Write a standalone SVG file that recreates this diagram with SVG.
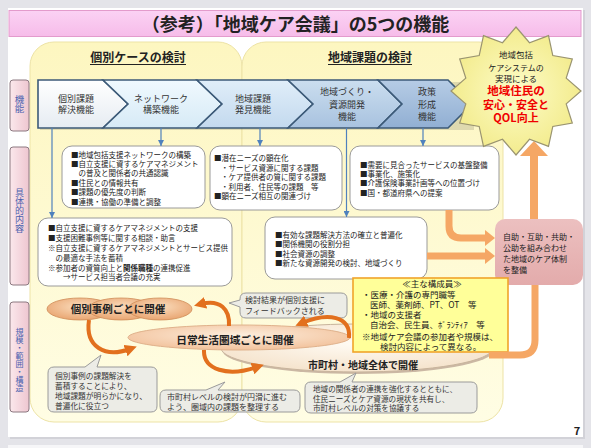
<svg xmlns="http://www.w3.org/2000/svg" width="591" height="448" viewBox="0 0 591 448">
<defs>
<style>
text{font-family:"Noto Sans CJK JP","Noto Sans CJK SC",sans-serif}
.k{fill:#222}
.b{font-size:7.5px;fill:#222}
.cv{font-size:9px;fill:#333;text-anchor:middle}
.tab{fill:#4a62b0;text-anchor:middle;writing-mode:vertical-rl}
.tabr{fill:url(#gTab);stroke:#8c7880;stroke-width:1}
.box{fill:#fff;stroke:#9a9a9a;stroke-width:1}
.call{fill:#ececE6;stroke:#9a9a9a;stroke-width:1}
.ct{fill:#333}
.chev{stroke:#3c5a78;stroke-width:1.6;stroke-linejoin:miter}
.blue{stroke:#4f81bd;stroke-width:1.2;fill:none;marker-end:url(#ab)}
.dor{stroke:#e2701e;stroke-width:4;fill:none;marker-end:url(#ao)}
.lor{stroke:#f5a765;fill:none}
.lorh{fill:#f5a765}
.et{font-weight:bold;text-anchor:middle;fill:#222}
.red{fill:#f00000;font-weight:bold}
.st{fill:#222;text-anchor:middle}
</style>
<linearGradient id="gRegion" x1="0" y1="0" x2="0" y2="1"><stop offset="0" stop-color="#fdf6c0"/><stop offset="1" stop-color="#fffde4"/></linearGradient>
<linearGradient id="gTab" x1="0" y1="0" x2="1" y2="0"><stop offset="0" stop-color="#fbe8ec"/><stop offset="1" stop-color="#eec6d0"/></linearGradient>
<linearGradient id="gTitle" x1="0" y1="0" x2="0" y2="1"><stop offset="0" stop-color="#fbd2f4"/><stop offset="1" stop-color="#f6bce9"/></linearGradient>
<linearGradient id="gC1" x1="0" y1="0" x2="0" y2="1"><stop offset="0" stop-color="#ffffff"/><stop offset="1" stop-color="#e6ecf2"/></linearGradient>
<linearGradient id="gC2" x1="0" y1="0" x2="0" y2="1"><stop offset="0" stop-color="#f0f9fe"/><stop offset="1" stop-color="#d6eaf6"/></linearGradient>
<linearGradient id="gC3" x1="0" y1="0" x2="0" y2="1"><stop offset="0" stop-color="#e0eef9"/><stop offset="1" stop-color="#c3d9ee"/></linearGradient>
<linearGradient id="gC4" x1="0" y1="0" x2="0" y2="1"><stop offset="0" stop-color="#cbdeef"/><stop offset="1" stop-color="#a8c2df"/></linearGradient>
<linearGradient id="gC5" x1="0" y1="0" x2="0" y2="1"><stop offset="0" stop-color="#b6cce5"/><stop offset="1" stop-color="#91afd3"/></linearGradient>
<radialGradient id="gE1" cx="0.5" cy="0.4" r="0.6"><stop offset="0" stop-color="#fadcbc"/><stop offset="1" stop-color="#e9a672"/></radialGradient>
<radialGradient id="gE2" cx="0.5" cy="0.4" r="0.6"><stop offset="0" stop-color="#fdeedd"/><stop offset="1" stop-color="#f2c29c"/></radialGradient>
<radialGradient id="gE3" cx="0.5" cy="0.4" r="0.6"><stop offset="0" stop-color="#fffbf4"/><stop offset="1" stop-color="#f5e3cc"/></radialGradient>
<radialGradient id="gStar" cx="0.5" cy="0.5" r="0.55"><stop offset="0" stop-color="#fdfcc8"/><stop offset="1" stop-color="#f2ea88"/></radialGradient>
<linearGradient id="gF" x1="0" y1="0" x2="0" y2="1"><stop offset="0" stop-color="#ecc0c0"/><stop offset="1" stop-color="#e3abab"/></linearGradient>
<marker id="ab" viewBox="0 0 10 10" refX="10" refY="5" markerWidth="6" markerHeight="6" orient="auto" markerUnits="userSpaceOnUse"><path d="M0,0 L10,5 L0,10 z" fill="#4f81bd"/></marker>
<marker id="ao" viewBox="0 0 10 10" refX="4" refY="5" markerWidth="12" markerHeight="12" orient="auto" markerUnits="userSpaceOnUse"><path d="M0,0 L10,5 L0,10 z" fill="#e2701e"/></marker>
</defs>

<rect x="0" y="0" width="591" height="448" fill="#e4e4e9"/>
<rect x="8" y="445" width="575" height="3" fill="#f6f6f8"/>
<rect x="10" y="10" width="575" height="429" fill="#d2d2d8"/>
<rect x="8" y="8" width="575" height="429" fill="#ffffff"/>

<g id="title">
<rect x="9" y="10.5" width="572" height="26" fill="url(#gTitle)" stroke="#e39bcc" stroke-width="1"/>
<text class="k" x="295.5" y="30.5" font-size="18" font-weight="bold" text-anchor="middle">（参考）「地域ケア会議」の5つの機能</text>
</g>

<g id="region-kobetsu">
<rect x="30" y="42" width="212" height="380" rx="24" fill="url(#gRegion)" stroke="#ede3a6" stroke-width="1"/>
<text class="k" x="138" y="62" font-size="12" font-weight="bold" text-anchor="middle">個別ケースの検討</text>
<line x1="90" y1="64.5" x2="186" y2="64.5" stroke="#222" stroke-width="1"/>
</g>
<g id="region-chiiki">
<rect x="242" y="42" width="261" height="380" rx="24" fill="url(#gRegion)" stroke="#ede3a6" stroke-width="1"/>
<text class="k" x="370" y="62" font-size="12" font-weight="bold" text-anchor="middle">地域課題の検討</text>
<line x1="328" y1="64.5" x2="412" y2="64.5" stroke="#222" stroke-width="1"/>
</g>

<g id="tab-kinou">
<rect x="10" y="80" width="19" height="51" rx="3" class="tabr"/>
<text class="tab" x="19.5" y="104" font-size="9.5">機能</text>
</g>
<g id="tab-naiyou">
<rect x="10" y="147" width="19" height="138" rx="3" class="tabr"/>
<text class="tab" x="19.5" y="211" font-size="9">具体的内容</text>
</g>
<g id="tab-kibo">
<rect x="10" y="302" width="19" height="110" rx="3" class="tabr"/>
<text class="tab" x="19.5" y="360" font-size="8">規模・範囲・構造</text>
</g>

<polygon points="40,82 474,82 474,130 40,130" fill="#000" opacity="0.12"/>
<g id="ch1">
<polygon class="chev" fill="url(#gC1)" points="38,80 103,80 128,104 103,128 38,128"/>
<text class="cv" x="76" y="101.5">個別課題<tspan x="76" dy="11">解決機能</tspan></text>
</g>
<g id="ch2">
<polygon class="chev" fill="url(#gC2)" points="103,80 197,80 222,104 197,128 103,128 128,104"/>
<text class="cv" x="161" y="101.5">ネットワーク<tspan x="161" dy="11">構築機能</tspan></text>
</g>
<g id="ch3">
<polygon class="chev" fill="url(#gC3)" points="197,80 288,80 313,104 288,128 197,128 222,104"/>
<text class="cv" x="253" y="101.5">地域課題<tspan x="253" dy="11">発見機能</tspan></text>
</g>
<g id="ch4">
<polygon class="chev" fill="url(#gC4)" points="288,80 378,80 402,104 378,128 288,128 313,104"/>
<text class="cv" x="347" y="95">地域づくり・<tspan x="347" dy="12.5">資源開発</tspan><tspan x="347" dy="12.5">機能</tspan></text>
</g>
<g id="ch5">
<polygon class="chev" fill="url(#gC5)" points="378,80 448,80 472,104 448,128 378,128 402,104"/>
<text class="cv" x="427" y="95">政策<tspan x="427" dy="12.5">形成</tspan><tspan x="427" dy="12.5">機能</tspan></text>
</g>

<g id="box-a">
<rect class="box" x="62" y="146" width="143" height="62" rx="10"/>
<text class="b" x="71" y="158">■地域包括支援ネットワークの構築<tspan x="71" y="167">■自立支援に資するケアマネジメント</tspan><tspan x="71" y="176">　の普及と関係者の共通認識</tspan><tspan x="71" y="186">■住民との情報共有</tspan><tspan x="71" y="195">■課題の優先度の判断</tspan><tspan x="71" y="205">■連携・協働の準備と調整</tspan></text>
</g>
<g id="box-b">
<rect class="box" x="210" y="146" width="132" height="64" rx="10"/>
<text class="b" x="214" y="161">■潜在ニーズの顕在化<tspan x="221" y="171">・サービス資源に関する課題</tspan><tspan x="221" y="180">・ケア提供者の質に関する課題</tspan><tspan x="221" y="190">・利用者、住民等の課題　等</tspan><tspan x="214" y="199">■顕在ニーズ相互の関連づけ</tspan></text>
</g>
<g id="box-c">
<rect class="box" x="350" y="146" width="149" height="64" rx="10"/>
<text class="b" x="360" y="168">■需要に見合ったサービスの基盤整備<tspan x="360" y="177">■事業化、施策化</tspan><tspan x="360" y="186">■介護保険事業計画等への位置づけ</tspan><tspan x="360" y="195.5">■国・都道府県への提案</tspan></text>
</g>
<g id="box-d">
<rect class="box" x="38" y="218" width="194" height="68" rx="10"/>
<text class="b" x="48" y="231">■自立支援に資するケアマネジメントの支援<tspan x="48" y="241">■支援困難事例等に関する相談・助言</tspan><tspan x="48" y="251">※自立支援に資するケアマネジメントとサービス提供</tspan><tspan x="48" y="260.5">　の最適な手法を蓄積</tspan><tspan x="48" y="270.5">※参加者の資質向上と</tspan><tspan font-weight="bold">関係職種</tspan><tspan>の連携促進</tspan><tspan x="48" y="280">　　→サービス担当者会議の充実</tspan></text>
</g>
<g id="box-e">
<rect class="box" x="265" y="217" width="162" height="62" rx="10"/>
<text class="b" x="275" y="238">■有効な課題解決方法の確立と普遍化<tspan x="275" y="247">■関係機関の役割分担</tspan><tspan x="275" y="256.5">■社会資源の調整</tspan><tspan x="275" y="266">■新たな資源開発の検討、地域づくり</tspan></text>
</g>
<g id="box-f">
<rect x="495" y="219" width="88" height="66" rx="10" fill="url(#gF)"/>
<text class="k" x="503" y="240" font-size="8">自助・互助・共助・<tspan x="503" y="251">公助を組み合わせ</tspan><tspan x="503" y="262">た地域のケア体制</tspan><tspan x="503" y="273">を整備</tspan></text>
</g>

<g id="ellipse-shichoson">
<ellipse cx="357" cy="348" rx="136" ry="24" fill="#cbb8a4" transform="translate(1,2)"/>
<ellipse cx="357" cy="348" rx="136" ry="24" fill="url(#gE3)" stroke="#c8b49c" stroke-width="1"/>
<text class="et" x="363" y="368.5" font-size="10">市町村・地域全体で開催</text>
</g>
<g id="box-members">
<rect x="353" y="278" width="155" height="74" fill="#ffff99" stroke="#f0a42a" stroke-width="1.6"/>
<text class="k" font-size="8.5"><tspan x="432" y="286.5" text-anchor="middle">≪主な構成員≫</tspan><tspan x="362" y="298">・医療・介護の専門職等</tspan><tspan x="370" y="308">医師、薬剤師、PT、OT　等</tspan><tspan x="362" y="318">・地域の支援者</tspan><tspan x="370" y="328">自治会、民生員、ﾎﾞﾗﾝﾃｨｱ　等</tspan><tspan x="362" y="339.5">※地域ケア会議の参加者や規模は、</tspan><tspan x="380" y="349.5">検討内容によって異なる。</tspan></text>
</g>
<g id="ellipse-kenikii">
<ellipse cx="239" cy="337.5" rx="111" ry="12.5" fill="url(#gE2)" stroke="#e0b28c" stroke-width="1"/>
<text class="et" x="235" y="344" font-size="10.7">日常生活圏域ごとに開催</text>
</g>
<g id="ellipse-kobetsu">
<ellipse cx="80" cy="309" rx="33" ry="11" fill="url(#gE1)" stroke="#cf8d58" stroke-width="0.8"/>
<ellipse cx="121" cy="309" rx="33" ry="11" fill="url(#gE1)" stroke="#cf8d58" stroke-width="0.8"/>
<ellipse cx="160" cy="309" rx="32" ry="11" fill="url(#gE1)" stroke="#cf8d58" stroke-width="0.8"/>
<text class="et" x="118" y="313" font-size="10.5">個別事例ごとに開催</text>
</g>

<g id="callout-feedback">
<path class="call" d="M246,293 H341 Q347,293 347,299 V312 Q347,318 341,318 H246 Q240,318 240,312 V307 L229,303 L240,300 V299 Q240,293 246,293 Z"/>
<text class="ct" x="245" y="302.5" font-size="8">検討結果が個別支援に<tspan x="245" y="313.5">フィードバックされる</tspan></text>
</g>
<g id="callout-kobetsu">
<path class="call" d="M54,367 H85 L101,355 L97,367 H151 Q157,367 157,373 V406 Q157,412 151,412 H54 Q48,412 48,406 V373 Q48,367 54,367 Z"/>
<text class="ct" x="55" y="378.5" font-size="7.7">個別事例の課題解決を<tspan x="55" y="388.5">蓄積することにより、</tspan><tspan x="55" y="398.5">地域課題が明らかになり、</tspan><tspan x="55" y="408.5">普遍化に役立つ</tspan></text>
</g>
<g id="callout-kenikii">
<path class="call" d="M166,390 H206 L225,382 L218,390 H294 Q300,390 300,396 V406 Q300,412 294,412 H166 Q160,412 160,406 V396 Q160,390 166,390 Z"/>
<text class="ct" x="167" y="400" font-size="8">市町村レベルの検討が円滑に進む<tspan x="167" y="410">よう、圏域内の課題を整理する</tspan></text>
</g>
<g id="callout-shichoson">
<path class="call" d="M311,382 H340 L356,373 L352,382 H471 Q477,382 477,388 V407 Q477,413 471,413 H311 Q305,413 305,407 V388 Q305,382 311,382 Z"/>
<text class="ct" x="313" y="391.5" font-size="7.6">地域の関係者の連携を強化するとともに、<tspan x="313" y="401.5">住民ニーズとケア資源の現状を共有し、</tspan><tspan x="313" y="411">市町村レベルの対策を協議する</tspan></text>
</g>

<g id="connectors">
<path class="blue" d="M52,128 V218"/>
<path class="blue" d="M161,128 V146"/>
<path class="blue" d="M260,128 V146"/>
<path class="blue" d="M346.5,128 V217"/>
<path class="blue" d="M423,128 V146"/>
<path class="lor" stroke-width="7" d="M449,210 V226 Q449,238 461,238 H486"/>
<polygon class="lorh" points="485,230 495,238 485,246"/>
<path class="lor" stroke-width="7" d="M427,256 H486"/>
<polygon class="lorh" points="485,248 495,256 485,264"/>
<path class="lor" stroke-width="8" d="M534,219 V155"/>
<polygon class="lorh" points="520,156 534,141 548,156"/>
<path class="lor" stroke-width="7" d="M535,285 V340 Q535,355 520,355 H489"/>
<path class="dor" d="M229,326 C230,309 220,299 201,304"/>
<path class="dor" d="M89,320 C85,347 105,358 130,349"/>
<path class="dor" d="M204,350 C203,370 228,377 257,367"/>
<path class="dor" d="M349,338 C351,316 328,312 302,323"/>
</g>

<g id="star">
<polygon fill="url(#gStar)" stroke="#9a9470" stroke-width="1.2" points="516,27 529.5,42.7 548.5,35.6 552.8,55.6 572.3,59 566.2,78.1 581,91 566.2,103.9 572.3,123 552.8,126.4 548.5,146.4 529.5,139.3 516,155 502.5,139.3 483.5,146.4 479.2,126.4 459.7,123 465.8,103.9 451,91 465.8,78.1 459.7,59 479.2,55.6 483.5,35.6 502.5,42.7"/>
<text class="st" x="516" y="58" font-size="8.5">地域包括<tspan x="516" y="70.5" font-size="8">ケアシステムの</tspan><tspan x="516" y="81.5">実現による</tspan><tspan class="red" x="516" y="94.5" font-size="11.5">地域住民の</tspan><tspan class="red" x="516" y="108.5" font-size="11">安心・安全と</tspan><tspan class="red" x="516" y="122" font-size="11">QOL向上</tspan></text>
</g>

<text class="k" x="577" y="435" font-size="11" font-weight="bold" text-anchor="middle">7</text>
</svg>
